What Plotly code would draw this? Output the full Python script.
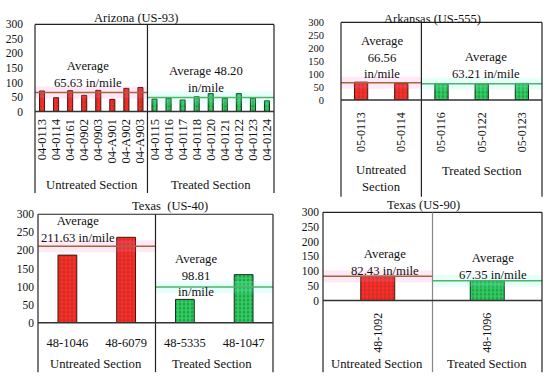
import plotly.graph_objects as go

# ---------------- data ----------------
az_untreated_ids = ["04-0113", "04-0114", "04-0161", "04-0902", "04-0903", "04-A901", "04-A902", "04-A903"]
az_untreated_iri = [71, 48, 72, 56, 73, 42, 80, 83]
az_treated_ids = ["04-0115", "04-0116", "04-0117", "04-0118", "04-0120", "04-0121", "04-0122", "04-0123", "04-0124"]
az_treated_iri = [43, 46, 40, 51, 62, 46, 62, 46, 37]
az_avg = [65.63, 48.20]

ar_untreated_ids = ["05-0113", "05-0114"]
ar_untreated_iri = [69.0, 64.1]
ar_treated_ids = ["05-0116", "05-0122", "05-0123"]
ar_treated_iri = [63.0, 62.5, 64.1]
ar_avg = [66.56, 63.21]

tx40_untreated_ids = ["48-1046", "48-6079"]
tx40_untreated_iri = [187.0, 236.3]
tx40_treated_ids = ["48-5335", "48-1047"]
tx40_treated_iri = [64.6, 133.0]
tx40_avg = [211.63, 98.81]

tx90_untreated_ids = ["48-1092"]
tx90_untreated_iri = [82.43]
tx90_treated_ids = ["48-1096"]
tx90_treated_iri = [67.35]
tx90_avg = [82.43, 67.35]

y_ticks = [0, 50, 100, 150, 200, 250, 300]

# ---------------- layout helpers ----------------
W, H = 550, 383
FONT = "Liberation Serif"
RED, RED_DOT, RED_EDGE = "#ff2b2b", "#8a3a18", "#4a1208"
GRN, GRN_DOT, GRN_EDGE = "#2fd060", "#1c6e36", "#10301a"
LINE_U, LINE_T = "#a8653c", "#4fb466"


def fx(p):
    return p / W


def fy(p):
    return 1 - p / H


panels = [
    dict(title="Arizona (US-93)", title_xy=(136, 12),
         ids_u=az_untreated_ids, v_u=az_untreated_iri, ids_t=az_treated_ids, v_t=az_treated_iri, avg=az_avg,
         txt_u="Average<br>65.63 in/mile", xy_u=(88, 71),
         txt_t="Average 48.20<br>in/mile", xy_t=(206, 76),
         box=(35, 274, 19, 109, 193), angle=-90, tfont=12.5, yfont=11.5, ystand=11, xstand=4, bw=0.36,
         sec_u=("Untreated Section", 92, 185), sec_t=("Treated Section", 211, 185), divcol="#222"),
    dict(title="Arkansas (US-555)", title_xy=(432, 13),
         ids_u=ar_untreated_ids, v_u=ar_untreated_iri, ids_t=ar_treated_ids, v_t=ar_treated_iri, avg=ar_avg,
         txt_u="Average<br>66.56<br>in/mile", xy_u=(382, 53),
         txt_t="Average<br>63.21 in/mile", xy_t=(486, 61),
         box=(341, 542, 17, 97, 197), angle=-90, tfont=12, yfont=10.5, ystand=16, xstand=9, bw=0.33,
         sec_u=("Untreated<br>Section", 381, 178), sec_t=("Treated Section", 482, 170), divcol="#222"),
    dict(title="Texas  (US-40)", title_xy=(170, 206),
         ids_u=tx40_untreated_ids, v_u=tx40_untreated_iri, ids_t=tx40_treated_ids, v_t=tx40_treated_iri, avg=tx40_avg,
         txt_u="Average<br>211.63 in/mile", xy_u=(78, 231),
         txt_t="Average<br>98.81<br>in/mile", xy_t=(196, 278),
         box=(38, 273, 215, 327, 378), angle=0, tfont=12.5, yfont=11.5, ystand=3, xstand=11, bw=0.32,
         sec_u=("Untreated Section", 96, 370), sec_t=("Treated Section", 212, 370), divcol="#222"),
    dict(title="Texas (US-90)", title_xy=(423, 205),
         ids_u=tx90_untreated_ids, v_u=tx90_untreated_iri, ids_t=tx90_treated_ids, v_t=tx90_treated_iri, avg=tx90_avg,
         txt_u="Average<br>82.43 in/mile", xy_u=(385, 265),
         txt_t="Average<br>67.35 in/mile", xy_t=(493, 269),
         box=(323, 542, 213, 304, 378), angle=-90, tfont=12, yfont=11.5, ystand=3, xstand=9, bw=0.31,
         sec_u=("Untreated Section", 377, 370), sec_t=("Treated Section", 487, 370), divcol="#888"),
]

fig = go.Figure()
shapes, annotations = [], []

for i, p in enumerate(panels, start=1):
    xa = "x" if i == 1 else f"x{i}"
    ya = "y" if i == 1 else f"y{i}"
    x0, x1, ytop, yzero, ybot = p["box"]
    nu, nt = len(p["ids_u"]), len(p["ids_t"])
    n = nu + nt
    idx_u = list(range(nu))
    idx_t = list(range(nu, n))

    # glow under average lines
    fig.add_trace(go.Scatter(x=[-0.5, nu - 0.5], y=[p["avg"][0]] * 2, mode="lines",
                             line=dict(color="rgba(255,120,200,0.16)", width=12),
                             xaxis=xa, yaxis=ya, hoverinfo="skip", showlegend=False))
    fig.add_trace(go.Scatter(x=[nu - 0.5, n - 0.5], y=[p["avg"][1]] * 2, mode="lines",
                             line=dict(color="rgba(120,255,230,0.18)", width=12),
                             xaxis=xa, yaxis=ya, hoverinfo="skip", showlegend=False))

    fig.add_trace(go.Bar(x=idx_u, y=p["v_u"], width=p["bw"], xaxis=xa, yaxis=ya, showlegend=False,
                         marker=dict(color=RED, line=dict(color=RED_EDGE, width=1),
                                     pattern=dict(shape=".", bgcolor=RED, fgcolor=RED_DOT, size=4, solidity=0.4))))
    fig.add_trace(go.Bar(x=idx_t, y=p["v_t"], width=p["bw"], xaxis=xa, yaxis=ya, showlegend=False,
                         marker=dict(color=GRN, line=dict(color=GRN_EDGE, width=1),
                                     pattern=dict(shape=".", bgcolor=GRN, fgcolor=GRN_DOT, size=4, solidity=0.4))))

    fig.add_trace(go.Scatter(x=[-0.5, nu - 0.5], y=[p["avg"][0]] * 2, mode="lines",
                             line=dict(color=LINE_U, width=1.5),
                             xaxis=xa, yaxis=ya, hoverinfo="skip", showlegend=False))
    fig.add_trace(go.Scatter(x=[nu - 0.5, n - 0.5], y=[p["avg"][1]] * 2, mode="lines",
                             line=dict(color=LINE_T, width=1.5),
                             xaxis=xa, yaxis=ya, hoverinfo="skip", showlegend=False))

    fig.layout[f"xaxis{'' if i == 1 else i}"] = dict(
        domain=[fx(x0), fx(x1)], range=[-0.5, n - 0.5], anchor=ya,
        tickvals=idx_u + idx_t, ticktext=p["ids_u"] + p["ids_t"], tickangle=p["angle"],
        tickfont=dict(family=FONT, size=p["tfont"], color="#111"), ticks="", showgrid=False,
        zeroline=False, showline=False, ticklabelstandoff=p["xstand"], fixedrange=True)
    fig.layout[f"yaxis{'' if i == 1 else i}"] = dict(
        domain=[fy(yzero), fy(ytop)], range=[0, 300], anchor=xa,
        tickvals=y_ticks, tickfont=dict(family=FONT, size=p["yfont"], color="#111"),
        ticks="", showgrid=False, zeroline=False, showline=False,
        ticklabelstandoff=p["ystand"], fixedrange=True)

    # frame
    lc = dict(color="#222", width=1.2)
    shapes += [
        dict(type="line", xref="paper", yref="paper", x0=fx(x0), x1=fx(x0), y0=fy(ytop), y1=fy(ybot), line=lc),
        dict(type="line", xref="paper", yref="paper", x0=fx(x1), x1=fx(x1), y0=fy(ytop), y1=fy(ybot), line=lc),
        dict(type="line", xref="paper", yref="paper", x0=fx(x0), x1=fx(x1), y0=fy(ytop), y1=fy(ytop), line=lc),
        dict(type="line", xref=xa, yref="paper", x0=nu - 0.5, x1=nu - 0.5, y0=fy(ytop), y1=fy(ybot),
             line=dict(color=p["divcol"], width=1.2)),
        dict(type="line", xref="paper", yref="paper", x0=fx(x0), x1=fx(x1), y0=fy(yzero), y1=fy(yzero),
             line=dict(color="#333", width=1.5)),
    ]

    tf = dict(family=FONT, size=12.7, color="#111")
    annotations += [
        dict(text=p["title"], x=fx(p["title_xy"][0]), y=fy(p["title_xy"][1]), xref="paper", yref="paper",
             showarrow=False, font=dict(family=FONT, size=12.5, color="#111"), xanchor="center", yanchor="middle"),
        dict(text=p["txt_u"], x=fx(p["xy_u"][0]), y=fy(p["xy_u"][1]), xref="paper", yref="paper",
             showarrow=False, font=tf, xanchor="center", yanchor="middle"),
        dict(text=p["txt_t"], x=fx(p["xy_t"][0]), y=fy(p["xy_t"][1]), xref="paper", yref="paper",
             showarrow=False, font=tf, xanchor="center", yanchor="middle"),
        dict(text=p["sec_u"][0], x=fx(p["sec_u"][1]), y=fy(p["sec_u"][2]), xref="paper", yref="paper",
             showarrow=False, font=tf, xanchor="center", yanchor="middle"),
        dict(text=p["sec_t"][0], x=fx(p["sec_t"][1]), y=fy(p["sec_t"][2]), xref="paper", yref="paper",
             showarrow=False, font=tf, xanchor="center", yanchor="middle"),
    ]

fig.update_layout(width=W, height=H, margin=dict(l=0, r=0, t=0, b=0),
                  paper_bgcolor="white", plot_bgcolor="rgba(0,0,0,0)",
                  shapes=shapes, annotations=annotations, showlegend=False,
                  font=dict(family=FONT, color="#111"))

fig.write_html("out.html", config={"displayModeBar": False},
               post_script="document.body.style.margin='0';document.body.style.overflow='hidden';")
